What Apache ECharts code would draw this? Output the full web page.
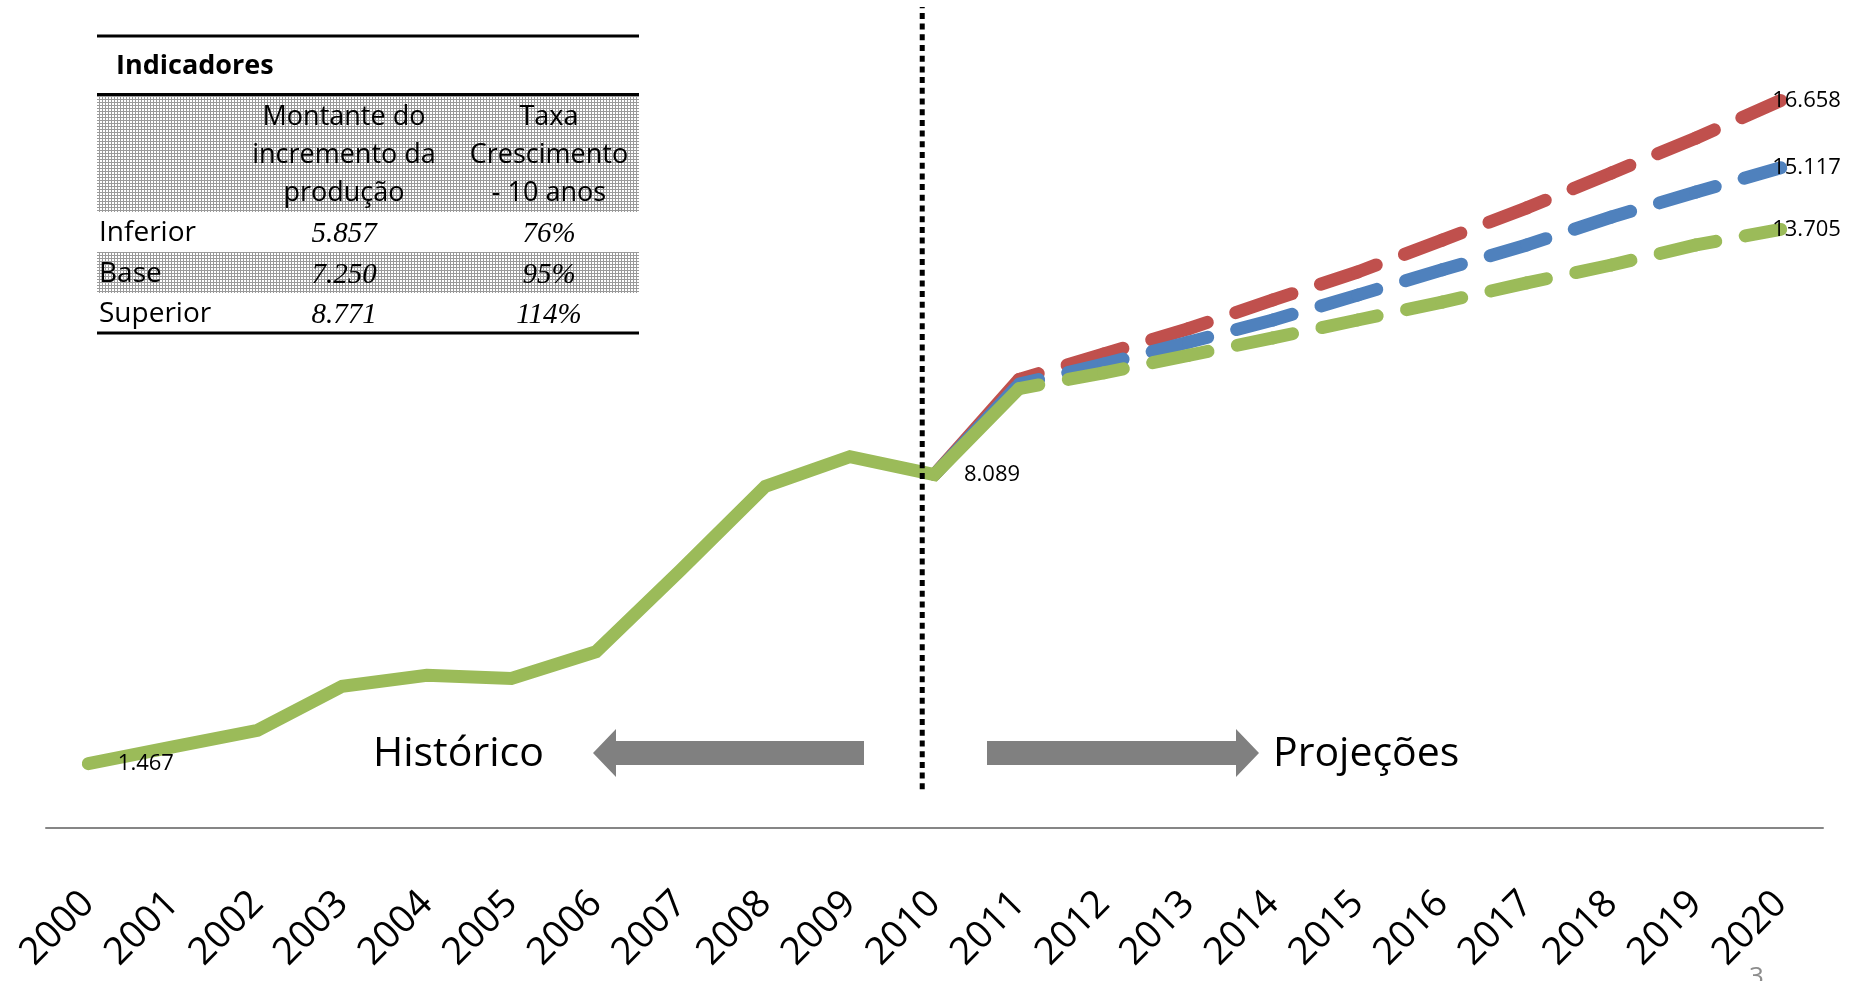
<!DOCTYPE html>
<html>
<head>
<meta charset="utf-8">
<script src="https://cdn.jsdelivr.net/npm/echarts@6/dist/echarts.min.js"></script>
<style>
html,body{margin:0;padding:0;background:#fff;}
#c{width:1861px;height:981px;}
</style>
</head>
<body>
<div id="c"></div>
<script>
// ---------- data ----------
const years = ['2000','2001','2002','2003','2004','2005','2006','2007','2008','2009','2010',
               '2011','2012','2013','2014','2015','2016','2017','2018','2019','2020'];
// historical series 2000-2010
const historico = [1.467, 1.85, 2.23, 3.24, 3.49, 3.42, 4.03, 5.90, 7.82, 8.50, 8.089];
// projections 2011-2020
const superior = [10.27, 10.85, 11.43, 12.09, 12.73, 13.46, 14.20, 15.00, 15.80, 16.658];
const base     = [10.16, 10.62, 11.12, 11.63, 12.20, 12.78, 13.35, 13.99, 14.56, 15.117];
const inferior = [10.06, 10.42, 10.82, 11.22, 11.63, 12.04, 12.48, 12.89, 13.35, 13.705];
// divider between history and projections (category index position)
const dividerPos = 9.855;

// table
const tableTitle = 'Indicadores';
const headerCol2 = ['Montante do', 'incremento da', 'produção'];
const headerCol3 = ['Taxa', 'Crescimento', '- 10 anos'];
const rowNames = ['Inferior', 'Base', 'Superior'];
const montante = ['5.857', '7.250', '8.771'];
const taxa = ['76%', '95%', '114%'];

const labelHist = 'Histórico';
const labelProj = 'Projeções';
const pageNumber = '3';

// ---------- styles ----------
const RED = '#C0504D', BLUE = '#4F81BD', GREEN = '#9BBB59';
const FONT = 'Open Sans';
const N = years.length;
const firstProj = 11;

function fmt(v) { return v.toFixed(3); }

function blank() { return new Array(N).fill('-'); }

function labelItem(v, dist, offset) {
  return {
    value: v, symbol: 'circle', symbolSize: 1,
    label: { show: true, position: 'right', distance: dist, offset: offset || [0, 0], formatter: fmt(v),
             fontSize: 22, fontFamily: FONT, color: '#000' }
  };
}

const series = [];

// solid 2010 -> 2011 segment for red and blue (behind green)
[[superior, RED], [base, BLUE]].forEach(([arr, col]) => {
  const d = blank();
  d[10] = historico[10];
  d[11] = arr[0];
  series.push({
    type: 'line', data: d, symbol: 'none', silent: true,
    lineStyle: { color: col, width: 13, cap: 'round', join: 'round' }
  });
});

// dashed projection segments (dash pattern restarts at every year, as in the source)
[[superior, RED], [base, BLUE], [inferior, GREEN]].forEach(([arr, col]) => {
  for (let k = 0; k < arr.length - 1; k++) {
    const d = blank();
    d[firstProj + k] = arr[k];
    d[firstProj + k + 1] = (k === arr.length - 2) ? labelItem(arr[k + 1], 0, [-9, 0]) : arr[k + 1];
    series.push({
      type: 'line', data: d, symbol: 'none', silent: true,
      itemStyle: { color: col },
      lineStyle: { color: col, width: 13, cap: 'round', join: 'round', type: [20, 30, 400, 0] }
    });
  }
});

// historical green solid line (continues to 2011)
(function () {
  const d = blank();
  historico.forEach((v, i) => { d[i] = v; });
  d[0] = labelItem(historico[0], 29);
  d[10] = labelItem(historico[10], 29);
  d[11] = inferior[0];
  series.push({
    type: 'line', data: d, symbol: 'none', silent: true,
    itemStyle: { color: GREEN },
    lineStyle: { color: GREEN, width: 13, cap: 'round', join: 'miter' }
  });
})();

// dotted vertical divider
series.push({
  type: 'line', xAxisIndex: 1, data: [[dividerPos, 0.88], [dividerPos, 18.8]],
  symbol: 'none', silent: true, clip: false,
  lineStyle: { color: '#000', width: 5, type: [6, 4.7], cap: 'butt' }
});

// ---------- table & annotations (graphic) ----------
const pat = document.createElement('canvas');
pat.width = 3; pat.height = 3;
(function () {
  const g = pat.getContext('2d');
  g.fillStyle = '#ffffff'; g.fillRect(0, 0, 3, 3);
  g.fillStyle = '#9a9a9a'; g.fillRect(0, 0, 3, 1); g.fillRect(0, 0, 1, 3);
})();
const patFill = { image: pat, repeat: 'repeat' };

const TL = 97, TR = 639, C2 = 344, C3 = 549;
const graphic = [];
graphic.push({ type: 'rect', shape: { x: TL, y: 96, width: TR - TL, height: 116 }, style: { fill: patFill } });
graphic.push({ type: 'rect', shape: { x: TL, y: 252, width: TR - TL, height: 41 }, style: { fill: patFill } });
[36, 94.5, 333].forEach(y => graphic.push({
  type: 'line', shape: { x1: TL, y1: y, x2: TR, y2: y }, style: { stroke: '#000', lineWidth: 3 }
}));
graphic.push({ type: 'text', x: 116, y: 66, style: {
  text: tableTitle, fontSize: 27, fontWeight: 'bold', fontFamily: FONT, fill: '#000',
  align: 'left', verticalAlign: 'middle' } });
const hdrY = [117, 155, 193];
headerCol2.forEach((t, i) => graphic.push({ type: 'text', x: C2, y: hdrY[i], style: {
  text: t, fontSize: 27, fontFamily: FONT, fill: '#000', align: 'center', verticalAlign: 'middle' } }));
headerCol3.forEach((t, i) => graphic.push({ type: 'text', x: C3, y: hdrY[i], style: {
  text: t, fontSize: 27, fontFamily: FONT, fill: '#000', align: 'center', verticalAlign: 'middle' } }));
const rowY = [233, 274, 314];
rowNames.forEach((t, i) => {
  graphic.push({ type: 'text', x: 99, y: rowY[i], style: {
    text: t, fontSize: 28, fontFamily: FONT, fill: '#000', align: 'left', verticalAlign: 'middle' } });
  graphic.push({ type: 'text', x: C2, y: rowY[i] + 1, style: {
    text: montante[i], fontSize: 29, fontStyle: 'italic', fontFamily: 'Liberation Serif', fill: '#000',
    align: 'center', verticalAlign: 'middle' } });
  graphic.push({ type: 'text', x: C3, y: rowY[i] + 1, style: {
    text: taxa[i], fontSize: 29, fontStyle: 'italic', fontFamily: 'Liberation Serif', fill: '#000',
    align: 'center', verticalAlign: 'middle' } });
});

// arrows and captions
graphic.push({ type: 'polygon', shape: { points: [[593, 753], [616, 729], [616, 741], [864, 741], [864, 765], [616, 765], [616, 777]] },
  style: { fill: '#808080' } });
graphic.push({ type: 'polygon', shape: { points: [[1259, 753], [1236, 729], [1236, 741], [987, 741], [987, 765], [1236, 765], [1236, 777]] },
  style: { fill: '#808080' } });
graphic.push({ type: 'text', x: 373, y: 754, style: {
  text: labelHist, fontSize: 41, fontFamily: FONT, fill: '#000', align: 'left', verticalAlign: 'middle' } });
graphic.push({ type: 'text', x: 1273, y: 754, style: {
  text: labelProj, fontSize: 41, fontFamily: FONT, fill: '#000', align: 'left', verticalAlign: 'middle' } });
graphic.push({ type: 'text', x: 1749, y: 965, style: {
  text: pageNumber, fontSize: 26, fontFamily: FONT, fill: '#8c8c8c', align: 'left', verticalAlign: 'top' } });

// ---------- chart ----------
const chart = echarts.init(document.getElementById('c'), null, { renderer: 'canvas' });
chart.setOption({
  animation: false,
  backgroundColor: '#ffffff',
  grid: { left: 46, right: 38, top: 7, bottom: 153.3, containLabel: false },
  xAxis: [
    {
      type: 'category', data: years, boundaryGap: true,
      axisLine: { show: true, lineStyle: { color: '#868686', width: 2 } },
      axisTick: { show: false },
      splitLine: { show: false },
      axisLabel: { interval: 0, rotate: 45, margin: 70, fontSize: 38, fontFamily: FONT, color: '#000' }
    },
    { type: 'value', min: -0.5, max: N - 0.5, show: false, splitLine: { show: false } }
  ],
  yAxis: { type: 'value', min: 0, max: 18.8, show: false, splitLine: { show: false } },
  series: series,
  graphic: graphic
});
</script>
</body>
</html>
